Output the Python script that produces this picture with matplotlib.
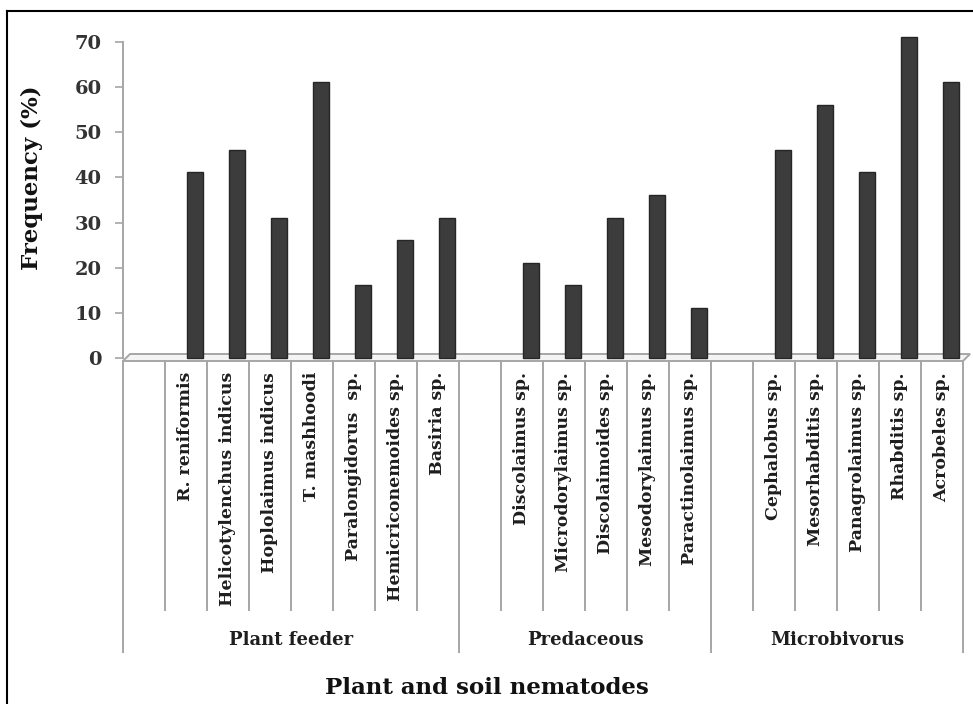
import matplotlib
matplotlib.use("Agg")
import matplotlib.pyplot as plt
from matplotlib.lines import Line2D
from matplotlib.patches import Polygon
from matplotlib.transforms import ScaledTranslation, blended_transform_factory

# ---------------- data ----------------
groups = ["Plant feeder", "Predaceous", "Microbivorus"]

plant_feeder_species = ["R. reniformis", "Helicotylenchus indicus", "Hoplolaimus indicus",
                        "T. mashhoodi", "Paralongidorus  sp.", "Hemicriconemoides sp.",
                        "Basiria sp."]
plant_feeder_freq = [40, 45, 30, 60, 15, 25, 30]

predaceous_species = ["Discolaimus sp.", "Microdorylaimus sp.", "Discolaimoides sp.",
                      "Mesodorylaimus sp.", "Paractinolaimus sp."]
predaceous_freq = [20, 15, 30, 35, 10]

microbivorus_species = ["Cephalobus sp.", "Mesorhabditis sp.", "Panagrolaimus sp.",
                        "Rhabditis sp.", "Acrobeles sp."]
microbivorus_freq = [45, 55, 40, 70, 60]

y_ticks = [0, 10, 20, 30, 40, 50, 60, 70]
y_label = "Frequency (%)"
x_label = "Plant and soil nematodes"

# ---------------- layout ----------------
W, H = 973, 704
fig = plt.figure(figsize=(W / 100, H / 100), dpi=100)
fig.patch.set_facecolor("white")

ax_left, ax_right, ax_top, ax_bottom = 123, 963, 42, 358  # pixels
ax = fig.add_axes([ax_left / W, 1 - ax_bottom / H,
                   (ax_right - ax_left) / W, (ax_bottom - ax_top) / H])
ax.set_facecolor("none")
ax_h = ax_bottom - ax_top
ax_w = ax_right - ax_left


def ay(py):
    """pixel y -> axes fraction y"""
    return (ax_bottom - py) / ax_h


# build slots: each group begins with an empty slot
slot_labels, slot_vals, group_spans = [], [], []
for g, sp, fr in [(groups[0], plant_feeder_species, plant_feeder_freq),
                  (groups[1], predaceous_species, predaceous_freq),
                  (groups[2], microbivorus_species, microbivorus_freq)]:
    start = len(slot_labels)
    slot_labels.append(None)
    slot_vals.append(None)
    slot_labels.extend(sp)
    slot_vals.extend(fr)
    group_spans.append((g, start, len(slot_labels)))

n = len(slot_labels)
ax.set_xlim(-0.5, n - 0.5)
ax.set_ylim(0, 70)

gray = "#a6a6a6"
serif = "DejaVu Serif"
txt = "#1e1e1e"

# floor (3D-style)
dxf = 7 / ax_w
floor = Polygon([(0, ay(361)), (1, ay(361)), (1 + dxf, ay(354)), (dxf, ay(354))],
                closed=True, transform=ax.transAxes, facecolor="#f4f4f4",
                edgecolor=gray, lw=1.4, clip_on=False, zorder=1)
ax.add_patch(floor)

# bars, drawn with a slight back offset for the 3D look; base sunk into the floor
bar_off = ax.transData + ScaledTranslation(9 / 100, 5 / 100, fig.dpi_scale_trans)
bar_base = -1.1
xs = [i for i, v in enumerate(slot_vals) if v is not None]
vs = [v for v in slot_vals if v is not None]
ax.bar(xs, [v - bar_base for v in vs], bottom=bar_base, width=0.36, color="#3c3c3c",
       edgecolor="#262626", linewidth=1.0, transform=bar_off, zorder=3, clip_on=False)

# y axis
for s in ["top", "right", "bottom"]:
    ax.spines[s].set_visible(False)
ax.spines["left"].set_color(gray)
ax.spines["left"].set_linewidth(1.4)
ax.spines["left"].set_bounds(0, 70)
ax.set_yticks(y_ticks)
ax.set_yticklabels([str(t) for t in y_ticks], fontfamily=serif, fontweight="bold",
                   fontsize=14, color="#333333")
ax.tick_params(axis="y", direction="out", length=5.5, width=1.2, color=gray, pad=10)
ax.set_xticks([])

# category separators and labels
xt = blended_transform_factory(ax.transData, ax.transAxes)
group_edges = {s for _, s, _ in group_spans} | {n}
for b in range(n + 1):
    y_end = ay(652) if b in group_edges else ay(610)
    ax.add_line(Line2D([b - 0.5, b - 0.5], [ay(361), y_end], transform=xt,
                       color=gray, lw=1.4, clip_on=False))

for i, lab in enumerate(slot_labels):
    if lab is None:
        continue
    ax.text(i, ay(372), lab, transform=xt, rotation=90, ha="center", va="top",
            fontfamily=serif, fontweight="bold", fontsize=12.5, color=txt,
            clip_on=False)

for g, s, e in group_spans:
    ax.text((s + e - 1) / 2, ay(640), g, transform=xt, ha="center", va="center",
            fontfamily=serif, fontweight="bold", fontsize=13, color=txt,
            clip_on=False)

# axis titles
fig.text(487 / W, 1 - 688 / H, x_label, ha="center", va="center",
         fontfamily=serif, fontweight="bold", fontsize=16.5, color="#111111")
fig.text(32 / W, 1 - 178 / H, y_label, ha="center", va="center", rotation=90,
         fontfamily=serif, fontweight="bold", fontsize=16.5, color="#111111")

# outer frame (left and top edges)
fig.add_artist(Line2D([7 / W, 7 / W], [0, 1 - 11 / H], transform=fig.transFigure,
                      color="black", lw=1.5))
fig.add_artist(Line2D([7 / W, 1], [1 - 11 / H, 1 - 11 / H], transform=fig.transFigure,
                      color="black", lw=1.5))

fig.savefig("out.png", dpi=100)
